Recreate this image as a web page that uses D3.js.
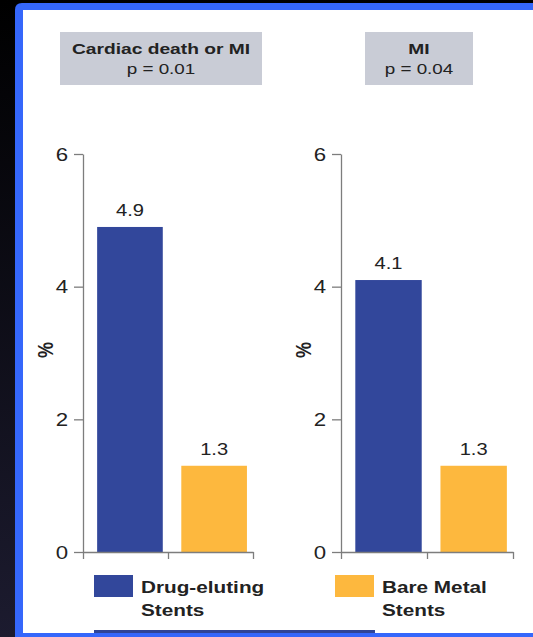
<!DOCTYPE html>
<html>
<head>
<meta charset="utf-8">
<script src="https://cdn.jsdelivr.net/npm/d3@7"></script>
<style>
  html, body { margin: 0; padding: 0; background: #000; overflow: hidden; }
  svg { display: block; }
  text { font-family: "Liberation Sans", Arial, Helvetica, sans-serif; fill: #222; }
</style>
</head>
<body>
<svg id="chart" width="533" height="637"></svg>
<script>
// Outcome panels
const panelTitles = ["Cardiac death or MI", "MI"];
const pValues = ["p = 0.01", "p = 0.04"];
// Stent types (series)
const seriesNames = ["Drug-eluting Stents", "Bare Metal Stents"];
const legendLines = [["Drug-eluting", "Stents"], ["Bare Metal", "Stents"]];
// Event rates, %
const drugElutingValues = [4.9, 4.1];
const bareMetalValues = [1.3, 1.3];
// Y axis
const yTicks = [0, 2, 4, 6];
const yMax = 6;

const colors = { des: "#32479b", bms: "#fdb83e", frame: "#3567fb", box: "#c9ccd6", axis: "#7d7d7d" };

const W = 533, H = 637;
const svg = d3.select("#chart");

// Backdrop: dark slide with a blue framed white panel running off the right edge
const defs = svg.append("defs");
const grad = defs.append("linearGradient").attr("id", "bg").attr("x1", 0).attr("y1", 0).attr("x2", 0).attr("y2", 1);
grad.append("stop").attr("offset", "0%").attr("stop-color", "#000000");
grad.append("stop").attr("offset", "100%").attr("stop-color", "#1c1b2f");
svg.append("rect").attr("width", W).attr("height", H).attr("fill", "url(#bg)");
const r = 7;
svg.append("path")
  .attr("d", `M15,${3 + r} Q15,3 ${15 + r},3 H${W} V${H} H15 Z`)
  .attr("fill", colors.frame);
svg.append("rect").attr("x", 23).attr("y", 10).attr("width", W - 23).attr("height", 623).attr("fill", "#ffffff");
svg.append("rect").attr("x", 94).attr("y", 630).attr("width", 281).attr("height", 3).attr("fill", "#2f4597");

// Text helper: horizontally widened lettering
function stretched(sel, x, y, sx) {
  return sel.attr("transform", `translate(${x},${y}) scale(${sx},1)`);
}

const panels = [
  { x0: 83, x1: 253, box: [60, 262] },
  { x0: 341, x1: 513, box: [365, 473] }
];
const yTop = 154, yBottom = 552;
const y = d3.scaleLinear().domain([0, yMax]).range([yBottom, yTop]);

panels.forEach((p, i) => {
  const g = svg.append("g");

  // Title box
  g.append("rect").attr("x", p.box[0]).attr("y", 32).attr("width", p.box[1] - p.box[0]).attr("height", 53).attr("fill", colors.box);
  const cx = (p.box[0] + p.box[1]) / 2;
  stretched(g.append("text"), cx, 54, 1.28).attr("text-anchor", "middle").attr("font-size", 15).attr("font-weight", "bold").text(panelTitles[i]);
  stretched(g.append("text"), cx, 74, 1.3).attr("text-anchor", "middle").attr("font-size", 14.5).text(pValues[i]);

  // Scales
  const x = d3.scaleBand().domain(seriesNames).range([p.x0, p.x1]).paddingInner(0.22).paddingOuter(0.12).align(0.7);
  const xEdges = d3.scaleLinear().domain([0, 2]).range([p.x0, p.x1]);
  const values = [drugElutingValues[i], bareMetalValues[i]];
  const data = seriesNames.map((s, k) => ({ s, v: values[k], c: k === 0 ? colors.des : colors.bms }));

  // Bars
  g.selectAll("rect.bar").data(data).join("rect").attr("class", "bar")
    .attr("x", d => x(d.s)).attr("width", x.bandwidth())
    .attr("y", d => y(d.v)).attr("height", d => y(0) - y(d.v))
    .attr("fill", d => d.c);

  // Value labels
  g.selectAll("text.val").data(data).join("text").attr("class", "val")
    .attr("text-anchor", "middle").attr("font-size", 16.5)
    .attr("transform", d => `translate(${x(d.s) + x.bandwidth() / 2},${y(d.v) - 11}) scale(1.22,1)`)
    .text(d => d.v.toFixed(1));

  // X axis: baseline with ticks at category edges
  const xAxis = g.append("g").attr("transform", `translate(0,${y(0)})`)
    .call(d3.axisBottom(xEdges).tickValues([0, 1, 2]).tickSize(7).tickSizeOuter(0).tickFormat(""));
  xAxis.selectAll("path, line").attr("stroke", colors.axis).attr("stroke-width", 1.3);

  // Y axis
  const yAxis = g.append("g").attr("transform", `translate(${p.x0},0)`)
    .call(d3.axisLeft(y).tickValues(yTicks).tickSize(9).tickSizeOuter(0).tickFormat(d3.format("d")));
  yAxis.selectAll("path, line").attr("stroke", colors.axis).attr("stroke-width", 1.3);
  yAxis.selectAll("text").attr("x", null).attr("dy", null).attr("fill", "#222")
    .attr("font-size", 17.5).attr("font-family", null)
    .attr("transform", "translate(-15,6) scale(1.27,1)");

  // Y axis title, rotated
  g.append("text")
    .attr("transform", `translate(${p.x0 - 30},350) scale(1.2,1) rotate(-90)`)
    .attr("font-size", 18).attr("font-weight", "bold").attr("text-anchor", "middle")
    .text("%");
});

// Legend
const legendX = [94, 335];
seriesNames.forEach((s, k) => {
  const lg = svg.append("g");
  lg.append("rect").attr("x", legendX[k]).attr("y", 575).attr("width", 39).attr("height", 22)
    .attr("fill", k === 0 ? colors.des : colors.bms);
  legendLines[k].forEach((line, j) => {
    stretched(lg.append("text"), legendX[k] + 47, 593 + j * 23, 1.22)
      .attr("font-size", 17).attr("font-weight", "bold").text(line);
  });
});
</script>
</body>
</html>
